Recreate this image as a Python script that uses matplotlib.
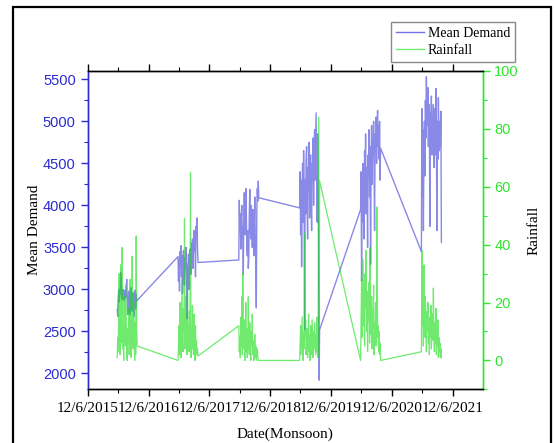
import pandas as pd
import matplotlib
matplotlib.use("Agg")
import matplotlib.pyplot as plt
import matplotlib.ticker as mticker
from matplotlib.lines import Line2D
from matplotlib.patches import Rectangle

# Monsoon seasons (1 June - 29 September), one reading every 3 days
season_years = [2016, 2017, 2018, 2019, 2020, 2021]
readings_per_season = 41

demand_2016 = [2760, 2680, 2900, 2990, 2850, 3000, 2940, 3200, 3050, 2880, 2960, 2900, 3000, 2920,
               2870, 2960, 2990, 2900, 2950, 3120, 2890, 2700, 2760, 2980, 2870, 2790, 2700, 2930,
               3020, 2850, 2740, 2880, 2960, 2810, 2680, 2990, 2910, 2770, 2940, 2860, 2870]
demand_2017 = [3390, 3100, 3350, 2980, 3450, 3280, 3520, 3150, 3400, 2950, 3300, 3460, 3200, 3050,
               3380, 3250, 3500, 3120, 2650, 3300, 3150, 3420, 3000, 3250, 3480, 3350, 3180, 3550,
               3400, 3600, 3250, 3500, 3700, 3450, 3650, 3150, 3750, 3600, 3850, 3500, 3320]
demand_2018 = [3350, 4060, 3700, 3900, 3480, 3850, 4000, 3600, 3750, 3180, 3900, 4150, 3800, 3650,
               4200, 3950, 3550, 3400, 3700, 3250, 3380, 3900, 4190, 3750, 3600, 4000, 3850, 3500,
               3950, 3700, 3400, 3800, 4100, 3600, 3350, 2780, 3900, 4200, 4050, 4290, 4090]
demand_2019 = [3970, 4400, 3650, 4300, 3270, 4200, 4500, 3800, 4650, 4100, 2520, 4300, 3900, 4550,
               4700, 4000, 3600, 4450, 4200, 4750, 3850, 4400, 4600, 4100, 3700, 4500, 4350, 4800,
               4000, 4650, 4900, 4300, 4700, 5100, 4500, 3800, 4850, 4200, 3600, 1920, 2520]
demand_2020 = [3950, 4400, 3100, 4200, 3800, 4500, 4100, 3600, 4650, 4300, 4850, 3900, 4450, 4200,
               3500, 4600, 4350, 4900, 4100, 4700, 3300, 4500, 4950, 4250, 4800, 4600, 5000, 4400,
               3700, 4850, 4650, 5050, 4500, 4900, 5130, 4700, 4950, 4550, 5000, 4300, 4680]
demand_2021 = [3450, 5150, 4100, 4900, 3700, 4600, 5000, 4350, 5250, 4800, 5530, 5100, 4950, 5400,
               4700, 5200, 4900, 3750, 5100, 4850, 5300, 4600, 5050, 4750, 5200, 4450, 4900, 5150,
               4600, 5390, 4800, 3700, 5000, 4550, 5280, 4900, 4650, 5000, 4700, 5120, 3560]

rain_2016 = [1, 8, 3, 18, 30, 12, 2, 33, 6, 15, 39, 4, 10, 0, 22, 9, 5, 26, 14, 3, 0, 11, 7, 18,
             2, 12, 28, 5, 1, 9, 36, 15, 4, 20, 8, 0, 13, 2, 43, 11, 5]
rain_2017 = [0, 5, 12, 2, 20, 8, 1, 15, 28, 6, 3, 18, 10, 49, 4, 22, 7, 14, 2, 32, 9, 12, 3, 17,
             6, 65, 1, 10, 4, 19, 8, 2, 16, 5, 0, 12, 3, 7, 2, 4, 1.5]
rain_2018 = [12, 3, 8, 1, 15, 5, 22, 2, 30, 9, 4, 14, 0, 7, 20, 3, 11, 1, 6, 22, 8, 2, 13, 4,
             0, 10, 5, 16, 2, 7, 0, 3, 9, 1, 5, 0, 2, 4, 1, 0, 0]
rain_2019 = [0, 5, 12, 2, 9, 15, 3, 0, 10, 4, 44, 8, 14, 2, 6, 11, 1, 7, 16, 3, 9, 0, 12, 5,
             2, 14, 8, 1, 10, 4, 13, 6, 2, 9, 3, 15, 5, 1, 84, 7, 62]
rain_2020 = [0, 15, 28, 8, 22, 35, 12, 25, 5, 30, 18, 38, 10, 24, 3, 20, 14, 27, 6, 39, 16, 9, 22,
             4, 18, 11, 26, 2, 13, 7, 20, 5, 15, 53, 8, 12, 3, 10, 2, 6, 0]
rain_2021 = [3, 38, 12, 25, 5, 33, 18, 8, 22, 14, 3, 17, 10, 20, 6, 12, 2, 15, 8, 19, 4, 11, 16,
             7, 25, 9, 3, 13, 6, 18, 2, 10, 5, 14, 1, 8, 3, 6, 1, 4, 1]

x_tick_labels = ["12/6/2015", "12/6/2016", "12/6/2017", "12/6/2018",
                 "12/6/2019", "12/6/2020", "12/6/2021"]

demand = (demand_2016 + demand_2017 + demand_2018 + demand_2019 + demand_2020 + demand_2021)
rain = rain_2016 + rain_2017 + rain_2018 + rain_2019 + rain_2020 + rain_2021
dates = pd.DatetimeIndex([])
for yr in season_years:
    dates = dates.append(pd.date_range(f"{yr}-06-01", periods=readings_per_season, freq="3D"))

BLUE = "#2B2BCF"
LINE_BLUE = "#3A3AD8"
GREEN = "#2EE62E"
LINE_GREEN = "#10DD10"

plt.rcParams["font.family"] = ["Liberation Serif", "DejaVu Serif"]

fig = plt.figure(figsize=(5.54, 4.43), dpi=100)
ax = fig.add_axes([0.158, 0.121, 0.713, 0.719])
ax2 = ax.twinx()

ax.plot(dates, demand, color=LINE_BLUE, lw=1.0, alpha=0.6, zorder=2)
ax2.plot(dates, rain, color=LINE_GREEN, lw=0.9, alpha=0.6, zorder=2)

# x axis
tick_dates = pd.to_datetime([f"{y}-12-06" for y in range(2015, 2022)])
minor_dates = pd.to_datetime([f"{y}-06-06" for y in range(2016, 2023)])
ax.set_xlim(pd.Timestamp("2015-12-06"), pd.Timestamp("2022-06-03"))
ax.set_xticks(tick_dates)
ax.set_xticklabels(x_tick_labels, fontsize=11)
ax.set_xticks(minor_dates[:-1], minor=True)
ax.xaxis.set_ticks_position("both")
ax.tick_params(axis="x", which="major", length=5, width=1, direction="out", pad=4)
ax.tick_params(axis="x", which="minor", length=3, width=0.8, direction="out")
ax.set_xlabel("Date(Monsoon)", fontsize=11, labelpad=9)

# left axis (demand)
ax.set_ylim(1810, 5600)
ax.yaxis.set_major_locator(mticker.MultipleLocator(500))
ax.yaxis.set_minor_locator(mticker.MultipleLocator(250))
ax.tick_params(axis="y", which="major", length=5, width=1, colors=BLUE, labelsize=10.5)
ax.tick_params(axis="y", which="minor", length=3, width=0.8, colors=BLUE)
for lab in ax.get_yticklabels():
    lab.set_fontfamily(["Liberation Sans", "DejaVu Sans"])
ax.set_ylabel("Mean Demand", fontsize=11, labelpad=1)

# right axis (rainfall)
ax2.set_ylim(-10, 100)
ax2.yaxis.set_major_locator(mticker.MultipleLocator(20))
ax2.yaxis.set_minor_locator(mticker.MultipleLocator(10))
ax2.tick_params(axis="y", which="major", length=5, width=1, colors=GREEN, labelsize=10.5)
ax2.tick_params(axis="y", which="minor", length=3, width=0.8, colors=GREEN)
for lab in ax2.get_yticklabels():
    lab.set_fontfamily(["Liberation Sans", "DejaVu Sans"])
ax2.set_ylabel("Rainfall", fontsize=11, labelpad=6)

for a in (ax, ax2):
    a.spines["top"].set_color("black")
    a.spines["bottom"].set_color("black")
    a.spines["left"].set_color(BLUE)
    a.spines["right"].set_color(GREEN)
    for s in a.spines.values():
        s.set_linewidth(1.0)

handles = [Line2D([], [], color="#7070E8", lw=1.0), Line2D([], [], color="#70EE70", lw=1.0)]
leg = fig.legend(handles, ["Mean Demand", "Rainfall"], loc="upper right",
                 bbox_to_anchor=(515 / 554, 1 - 22 / 443), fontsize=10, frameon=True,
                 fancybox=False, framealpha=1, edgecolor="#888888", borderpad=0.35,
                 handlelength=2.0, handletextpad=0.3, labelspacing=0.3, borderaxespad=0)
leg.get_frame().set_linewidth(1.0)

fig.patches.append(Rectangle((13 / 554, -0.05), (551 - 13) / 554, 1.05 - 7 / 443,
                             transform=fig.transFigure, fill=False, edgecolor="black", lw=1.6))

fig.savefig("out.png", dpi=100)
